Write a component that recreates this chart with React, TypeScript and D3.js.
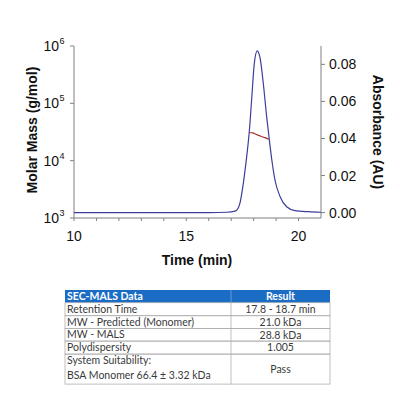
import React from 'react';
import * as d3 from 'd3';

// UV trace (time in min, absorbance in AU)
const uvTime = [10, 12, 14, 16, 16.8, 17.17, 17.31, 17.39, 17.54, 17.69, 17.8, 17.92, 18.03, 18.16, 18.29, 18.43, 18.58, 18.7, 18.81, 18.95, 19.18, 19.47, 19.84, 20.44, 21];
const uvAbs = [0, 0, 0, 0, 0.0002, 0.0008, 0.0024, 0.0051, 0.0158, 0.0302, 0.0428, 0.0625, 0.0805, 0.0873, 0.0832, 0.0698, 0.0518, 0.0392, 0.0284, 0.0176, 0.0086, 0.0032, 0.0011, 0.0005, 0.0002];

// MALS molar mass across the peak (g/mol)
const malsTime = [17.8, 17.95, 18.1, 18.3, 18.5, 18.68];
const malsMass = [31000, 30500, 28900, 26900, 25200, 23700];

const xTicks = [10, 15, 20];
const xMinor = [10, 11, 12, 13, 14, 15, 16, 17, 18, 19, 20];
const massTicks = [1e3, 1e4, 1e5, 1e6];
const absTicks = [0, 0.02, 0.04, 0.06, 0.08];

const tableHeader = ['SEC-MALS Data', 'Result'];
const tableLabels = [['Retention Time'], ['MW - Predicted (Monomer)'], ['MW - MALS'], ['Polydispersity'], ['System Suitability:', 'BSA Monomer 66.4 ± 3.32 kDa']];
const tableResults = ['17.8 - 18.7 min', '21.0 kDa', '28.8 kDa', '1.005', 'Pass'];

const plot = { left: 74, right: 321, top: 46, bottom: 218 };
const axisColor = '#808080';
const font = 'Liberation Sans, Arial, sans-serif';

export default function App() {
  const x = d3.scaleLinear().domain([10, 21]).range([plot.left, plot.right]);
  const yMass = d3.scaleLog().domain([1e3, 1e6]).range([plot.bottom, plot.top]);
  const yAbs = d3.scaleLinear().domain([-0.0029, 0.0899]).range([plot.bottom, plot.top]);

  const uvLine = d3.line<number>()
    .x((_, i) => x(uvTime[i]))
    .y(d => yAbs(d))
    .curve(d3.curveMonotoneX);
  const malsLine = d3.line<number>()
    .x((_, i) => x(malsTime[i]))
    .y(d => yMass(d))
    .curve(d3.curveMonotoneX);

  // table geometry
  const tLeft = 65, tRight = 330, tMid = 231;
  const rowH = [12.7, 13, 12.7, 12.7, 13, 30];
  const rowY: number[] = [290];
  rowH.forEach((h, i) => rowY.push(rowY[i] + h));
  const tFont = 'Lato, Open Sans, sans-serif';
  const tColor = '#3a3a3a';
  const tSize = 10.5;

  return (
    <svg width={400} height={400} style={{ position: 'absolute', left: 0, top: 0, background: '#fff' }}>
      {/* axes frame */}
      <line x1={plot.left} x2={plot.left} y1={plot.top} y2={plot.bottom} stroke={axisColor} />
      <line x1={plot.right} x2={plot.right} y1={plot.top} y2={plot.bottom} stroke={axisColor} />
      <line x1={plot.left} x2={plot.right} y1={plot.bottom} y2={plot.bottom} stroke={axisColor} />

      {xMinor.map(t => (
        <line key={'xm' + t} x1={x(t)} x2={x(t)} y1={plot.bottom} y2={plot.bottom + 3} stroke={axisColor} />
      ))}
      {xTicks.map(t => (
        <text key={'xt' + t} x={x(t)} y={241} textAnchor="middle" fontFamily={font} fontSize={14} fill="#111">{t}</text>
      ))}
      <text x={197} y={265} textAnchor="middle" fontFamily={font} fontSize={14} fontWeight="bold" fill="#111">Time (min)</text>

      {massTicks.map(m => (
        <g key={'m' + m}>
          <line x1={plot.left - 4} x2={plot.left} y1={yMass(m)} y2={yMass(m)} stroke={axisColor} />
          <text x={59} y={yMass(m) + 5} textAnchor="end" fontFamily={font} fontSize={14} fill="#111">10</text>
          <text x={59.5} y={yMass(m) - 2} fontFamily={font} fontSize={9} fill="#111">{Math.log10(m)}</text>
        </g>
      ))}
      <text transform="translate(37,130) rotate(-90)" textAnchor="middle" fontFamily={font} fontSize={14} fontWeight="bold" fill="#111">Molar Mass (g/mol)</text>

      {absTicks.map(a => (
        <g key={'a' + a}>
          <line x1={plot.right} x2={plot.right + 4} y1={yAbs(a)} y2={yAbs(a)} stroke={axisColor} />
          <text x={329} y={yAbs(a) + 5} fontFamily={font} fontSize={14} fill="#111">{a.toFixed(2)}</text>
        </g>
      ))}
      <text transform="translate(373,132) rotate(90)" textAnchor="middle" fontFamily={font} fontSize={14} fontWeight="bold" fill="#111">Absorbance (AU)</text>

      <path d={uvLine(uvAbs) ?? ''} fill="none" stroke="#3d3d9c" strokeWidth={1.2} />
      <path d={malsLine(malsMass) ?? ''} fill="none" stroke="#a8322d" strokeWidth={1.2} />

      {/* table */}
      <rect x={tLeft} y={rowY[0]} width={tRight - tLeft} height={rowH[0]} fill="#1a6cc4" />
      <text x={tLeft + 2} y={rowY[0] + 10} fontFamily={tFont} fontSize={tSize} fontWeight="bold" fill="#fff">{tableHeader[0]}</text>
      <text x={(tMid + tRight) / 2} y={rowY[0] + 10} textAnchor="middle" fontFamily={tFont} fontSize={tSize} fontWeight="bold" fill="#fff">{tableHeader[1]}</text>
      {tableLabels.map((lines, i) => {
        const y0 = rowY[i + 1];
        const h = rowH[i + 1];
        return (
          <g key={'r' + i}>
            <rect x={tLeft} y={y0} width={tRight - tLeft} height={h} fill="none" stroke="#b0b0b0" strokeWidth={0.8} />
            <line x1={tMid} x2={tMid} y1={y0} y2={y0 + h} stroke="#b0b0b0" strokeWidth={0.8} />
            {lines.map((s, j) => (
              <text key={j} x={tLeft + 2} y={y0 + 10 + j * 14.5} fontFamily={tFont} fontSize={tSize} fill={tColor}>{s}</text>
            ))}
            <text x={(tMid + tRight) / 2} y={y0 + h / 2 + 3.8} textAnchor="middle" fontFamily={tFont} fontSize={tSize} fill={tColor}>{tableResults[i]}</text>
          </g>
        );
      })}
      <line x1={tMid} x2={tMid} y1={rowY[0]} y2={rowY[1]} stroke="#7aa6dc" strokeWidth={0.8} />
    </svg>
  );
}
